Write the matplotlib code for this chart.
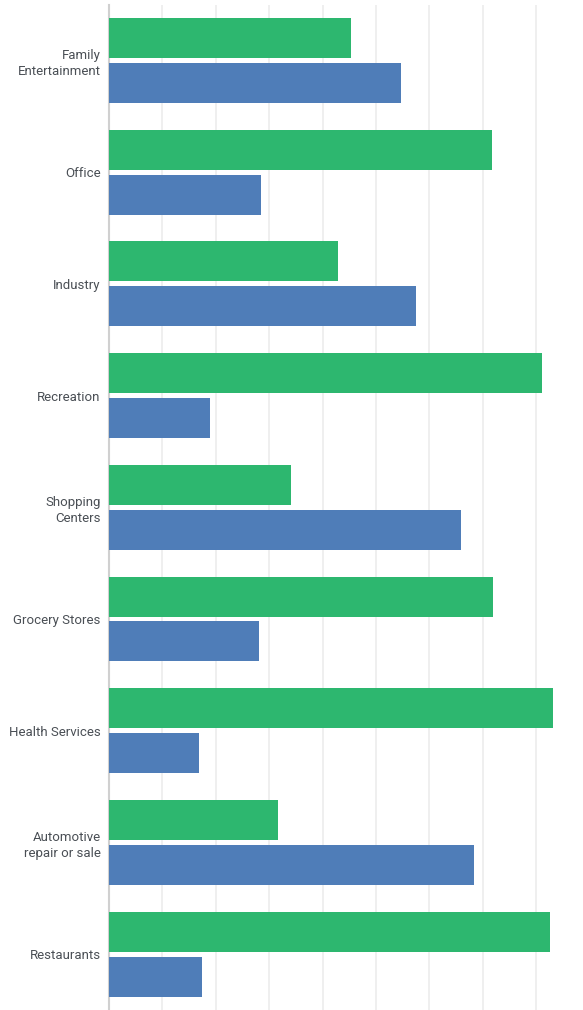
import numpy as np
from matplotlib import pyplot as plt

categories = ["Family\nEntertainment", "Office", "Industry", "Recreation",
              "Shopping\nCenters", "Grocery Stores", "Health Services",
              "Automotive\nrepair or sale", "Restaurants"]
green_vals = [45.4, 71.7, 42.8, 81.1, 34.1, 72.0, 83.1, 31.7, 82.6]
blue_vals = [54.6, 28.5, 57.4, 18.9, 66.0, 28.0, 16.9, 68.3, 17.4]

plt.rcParams['font.family'] = ['Roboto', 'DejaVu Sans']

fig = plt.figure(figsize=(5.83, 10.10), dpi=100)
# axes placed in pixel terms: left 109, top ~4.6, bottom ~1010
ax = fig.add_axes([109 / 583, 0.0, 1 - 109 / 583, 1 - 4.6 / 1010])

y = np.arange(len(categories))
h = 0.358
off = 0.201
ax.barh(y - off, green_vals, height=h, color="#2db76f", zorder=3)
ax.barh(y + off, blue_vals, height=h, color="#4f7db8", zorder=3)

ax.set_ylim(len(categories) - 0.5, -0.5)
ax.set_xlim(0, (583 - 109) / 5.34)
ax.set_xticks(np.arange(10, 90, 10))
ax.set_xticklabels([])
ax.tick_params(axis="x", length=0)
ax.grid(axis="x", color="#ececec", linewidth=1.2, zorder=0)

ax.set_yticks(y)
ax.set_yticklabels(categories, fontsize=9.5, color="#4a4f55", linespacing=1.35)
ax.tick_params(axis="y", length=0, pad=6)

for s in ["top", "right", "bottom"]:
    ax.spines[s].set_visible(False)
ax.spines["left"].set_color("#d0d0d0")
ax.spines["left"].set_linewidth(1.5)

fig.savefig("out.png", dpi=100)
